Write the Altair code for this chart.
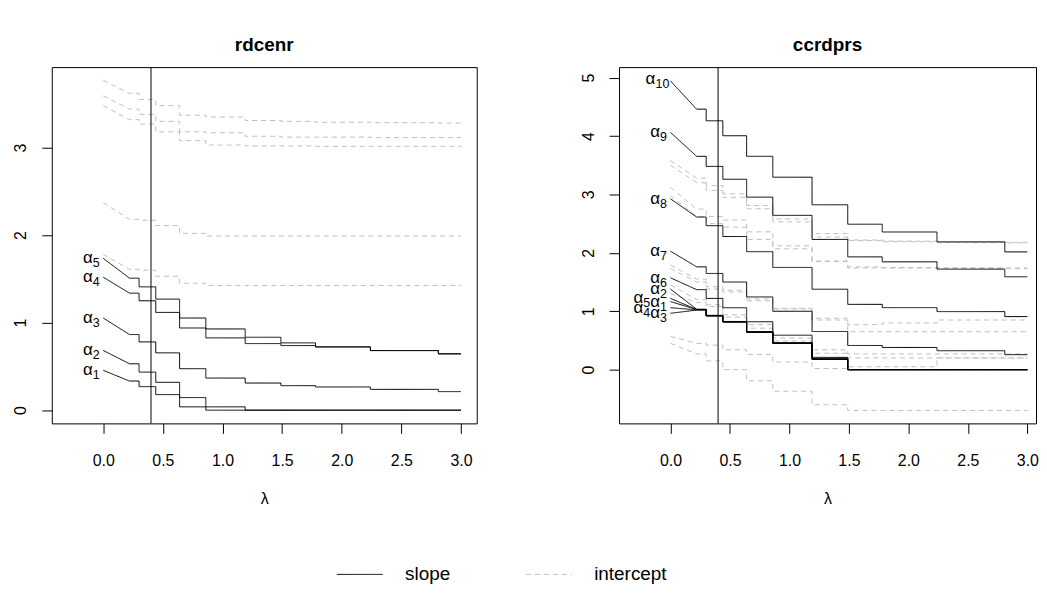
import altair as alt
import pandas as pd

# ---------------- data ----------------
LAMBDA_BREAKS = [0.0, 0.22, 0.30, 0.44, 0.64, 0.86, 1.19, 1.49, 1.78, 2.24, 2.81, 3.0]
LAMBDA_SELECTED = [0.40]
X_TICKS = [0.0, 0.5, 1.0, 1.5, 2.0, 2.5, 3.0]

# each path: value at lambda=0, then one value per step interval
rd_slope_1 = [0.455, 0.333, 0.269, 0.178, 0.038, 0.0, 0.0, 0.0, 0.0, 0.0, 0.0]
rd_slope_2 = [0.682, 0.530, 0.435, 0.318, 0.144, 0.038, 0.0, 0.0, 0.0, 0.0, 0.0]
rd_slope_3 = [1.053, 0.864, 0.780, 0.655, 0.474, 0.367, 0.310, 0.280, 0.265, 0.238, 0.212]
rd_slope_4 = [1.519, 1.337, 1.250, 1.117, 0.939, 0.826, 0.761, 0.738, 0.723, 0.681, 0.644]
rd_slope_5 = [1.735, 1.508, 1.409, 1.269, 1.053, 0.928, 0.833, 0.769, 0.723, 0.681, 0.644]

rd_icpt_1 = [3.77, 3.62, 3.55, 3.48, 3.37, 3.35, 3.31, 3.30, 3.29, 3.285, 3.28]
rd_icpt_2 = [3.59, 3.44, 3.38, 3.30, 3.18, 3.17, 3.13, 3.12, 3.12, 3.115, 3.115]
rd_icpt_3 = [3.48, 3.32, 3.27, 3.18, 3.08, 3.03, 3.02, 3.02, 3.015, 3.015, 3.015]
rd_icpt_4 = [2.37, 2.18, 2.17, 2.11, 2.02, 1.99, 1.99, 1.99, 1.99, 1.99, 1.99]
rd_icpt_5 = [1.78, 1.61, 1.60, 1.53, 1.45, 1.425, 1.425, 1.425, 1.425, 1.425, 1.425]

rd_label_sub = ["1", "2", "3", "4", "5"]
rd_label_x = [-0.03, -0.03, -0.03, -0.03, -0.03]
rd_label_y = [0.455, 0.682, 1.053, 1.519, 1.735]

cc_slope_1 = [1.165, 1.030, 0.925, 0.820, 0.645, 0.454, 0.180, 0.0, 0.0, 0.0, 0.0]
cc_slope_2 = [1.380, 1.035, 0.930, 0.825, 0.650, 0.460, 0.185, 0.0, 0.0, 0.0, 0.0]
cc_slope_3 = [0.965, 1.020, 0.920, 0.815, 0.640, 0.450, 0.175, 0.0, 0.0, 0.0, 0.0]
cc_slope_4 = [1.060, 1.025, 0.925, 0.820, 0.645, 0.455, 0.180, 0.0, 0.0, 0.0, 0.0]
cc_slope_5 = [1.220, 1.030, 0.920, 0.820, 0.640, 0.450, 0.180, 0.0, 0.0, 0.0, 0.0]
cc_slope_6 = [1.573, 1.370, 1.220, 1.060, 0.820, 0.590, 0.210, 0.0, 0.0, 0.0, 0.0]
cc_slope_7 = [2.028, 1.760, 1.647, 1.500, 1.245, 1.000, 0.653, 0.414, 0.380, 0.324, 0.256]
cc_slope_8 = [2.925, 2.613, 2.465, 2.280, 2.020, 1.750, 1.377, 1.118, 1.062, 0.994, 0.908]
cc_slope_9 = [4.062, 3.653, 3.480, 3.260, 2.954, 2.642, 2.230, 1.931, 1.846, 1.721, 1.590]
cc_slope_10 = [4.943, 4.460, 4.261, 4.005, 3.653, 3.295, 2.823, 2.490, 2.357, 2.187, 2.016]

cc_icpt_1 = [3.58, 3.28, 3.15, 3.01, 2.81, 2.58, 2.33, 2.22, 2.20, 2.19, 2.18]
cc_icpt_2 = [3.50, 3.20, 3.07, 2.95, 2.755, 2.53, 2.27, 2.21, 2.19, 2.18, 2.17]
cc_icpt_3 = [3.12, 2.75, 2.62, 2.56, 2.36, 2.07, 1.85, 1.76, 1.75, 1.74, 1.73]
cc_icpt_4 = [2.98, 2.62, 2.50, 2.44, 2.23, 2.12, 1.86, 1.74, 1.74, 1.74, 1.74]
cc_icpt_5 = [1.79, 1.55, 1.42, 1.36, 1.21, 1.05, 0.88, 0.77, 0.80, 0.85, 0.85]
cc_icpt_6 = [1.73, 1.50, 1.38, 1.33, 1.18, 1.04, 0.85, 0.65, 0.65, 0.65, 0.65]
cc_icpt_7 = [1.45, 1.20, 1.11, 0.94, 0.77, 0.54, 0.34, 0.27, 0.27, 0.27, 0.27]
cc_icpt_8 = [1.30, 1.15, 1.08, 0.90, 0.71, 0.49, 0.28, 0.20, 0.20, 0.20, 0.20]
cc_icpt_9 = [0.57, 0.45, 0.42, 0.34, 0.26, 0.13, 0.02, 0.05, 0.05, 0.20, 0.20]
cc_icpt_10 = [0.45, 0.27, 0.15, 0.00, -0.19, -0.37, -0.60, -0.70, -0.70, -0.70, -0.70]

cc_label_sub = ["10", "9", "8", "7", "6", "2", "5", "1", "4", "3"]
cc_label_x = [-0.01, -0.03, -0.03, -0.03, -0.03, -0.03, -0.17, -0.03, -0.17, -0.03]
cc_label_y = [4.97, 4.062, 2.925, 2.028, 1.573, 1.38, 1.22, 1.165, 1.06, 0.965]

TYPES = ["slope", "intercept"]
FONT = "Liberation Sans"
H = 358


def path_rows(name, kind, values):
    rows = [dict(series=name, type=kind, order=0, x=LAMBDA_BREAKS[0], y=values[0])]
    o = 1
    for i in range(1, len(values)):
        rows.append(dict(series=name, type=kind, order=o, x=LAMBDA_BREAKS[i], y=values[i]))
        o += 1
        rows.append(dict(series=name, type=kind, order=o, x=LAMBDA_BREAKS[i + 1], y=values[i]))
        o += 1
    return rows


def make_panel(title, slopes, icpts, subs, lab_x, lab_y, xdom, width, ydom, yticks):
    srows, irows = [], []
    for k, v in enumerate(slopes):
        srows += path_rows(f"s{k}", "slope", v)
    for k, v in enumerate(icpts):
        irows += path_rows(f"i{k}", "intercept", v)
    sdf = pd.DataFrame(srows)
    idf = pd.DataFrame(irows)
    ldf = pd.DataFrame({"x": lab_x, "y": lab_y, "sub": subs, "g": ["α"] * len(subs),
                        "nd": [len(s) for s in subs]})
    rdf = pd.DataFrame({"lam": LAMBDA_SELECTED})
    tdf = pd.DataFrame({"t": [title]})

    xsc = alt.Scale(domain=xdom, nice=False, zero=False)
    ysc = alt.Scale(domain=ydom, nice=False, zero=False)
    xax = alt.Axis(values=X_TICKS, format=".1f", title="λ", domain=False, grid=False,
                   tickSize=10, tickColor="black", labelColor="black", labelFontSize=16,
                   labelPadding=27, labelBaseline="middle", labelFlush=False,
                   labelOverlap=False, titleFontSize=16, titleFontWeight="normal",
                   titleColor="black", titleY=76, titleBaseline="middle")
    yax = alt.Axis(values=yticks, format="d", title=None, domain=False, grid=False,
                   tickSize=10, tickColor="black", labelColor="black", labelFontSize=16,
                   labelAngle=-90, labelAlign="center", labelBaseline="middle",
                   labelPadding=21, labelFlush=False, labelOverlap=False)
    leg = alt.Legend(title=None)
    cscale = alt.Scale(domain=TYPES, range=["black", "#bebebe"])
    dscale = alt.Scale(domain=TYPES, range=[[1, 0], [5, 4]])

    def lines(df):
        return alt.Chart(df).mark_line(strokeWidth=1).encode(
            x=alt.X("x:Q", scale=xsc, axis=xax),
            y=alt.Y("y:Q", scale=ysc, axis=yax),
            detail="series:N",
            order="order:Q",
            color=alt.Color("type:N", scale=cscale, legend=leg),
            strokeDash=alt.StrokeDash("type:N", scale=dscale, legend=leg),
        )

    rule = alt.Chart(rdf).mark_rule(color="black", strokeWidth=1).encode(x=alt.X("lam:Q", scale=xsc))
    lab = alt.Chart(ldf).encode(x=alt.X("x:Q", scale=xsc), y=alt.Y("y:Q", scale=ysc))
    sub_t = lab.mark_text(align="right", baseline="middle", fontSize=12.5, font=FONT,
                          color="black", dy=5).encode(text="sub:N")
    g1 = lab.transform_filter("datum.nd == 1").mark_text(
        align="right", baseline="middle", fontSize=17, font=FONT, color="black", dx=-7
    ).encode(text="g:N")
    g2 = lab.transform_filter("datum.nd == 2").mark_text(
        align="right", baseline="middle", fontSize=17, font=FONT, color="black", dx=-14
    ).encode(text="g:N")
    ttl = alt.Chart(tdf).mark_text(align="center", baseline="alphabetic", fontSize=19,
                                   fontWeight="bold", font=FONT, color="black").encode(
        x=alt.value(width / 2), y=alt.value(-16), text="t:N")

    return alt.layer(lines(idf), lines(sdf), rule, sub_t, g1, g2, ttl).properties(
        width=width, height=H)


left = make_panel("rdcenr",
                  [rd_slope_1, rd_slope_2, rd_slope_3, rd_slope_4, rd_slope_5],
                  [rd_icpt_1, rd_icpt_2, rd_icpt_3, rd_icpt_4, rd_icpt_5],
                  rd_label_sub, rd_label_x, rd_label_y,
                  [-0.432, 3.132], 427, [-0.151, 3.92], [0, 1, 2, 3])
right = make_panel("ccrdprs",
                   [cc_slope_1, cc_slope_2, cc_slope_3, cc_slope_4, cc_slope_5,
                    cc_slope_6, cc_slope_7, cc_slope_8, cc_slope_9, cc_slope_10],
                   [cc_icpt_1, cc_icpt_2, cc_icpt_3, cc_icpt_4, cc_icpt_5,
                    cc_icpt_6, cc_icpt_7, cc_icpt_8, cc_icpt_9, cc_icpt_10],
                   cc_label_sub, cc_label_x, cc_label_y,
                   [-0.4325, 3.0725], 419, [-0.92, 5.18], [0, 1, 2, 3, 4, 5])

chart = alt.hconcat(left, right, spacing=102).resolve_scale(
    x="independent", y="independent", color="shared", strokeDash="shared"
).properties(
    padding={"left": 4, "top": 26, "right": 0, "bottom": 0}
).configure(font=FONT).configure_view(
    stroke="black", strokeWidth=1
).configure_legend(
    orient="none", legendX=286, legendY=486, direction="horizontal",
    symbolType="stroke", symbolSize=2116, symbolStrokeWidth=1,
    labelFontSize=19, labelColor="black", labelOffset=22, columnPadding=73,
    labelFont=FONT
)

chart.save("out.html", embed_options={"renderer": "svg", "actions": False})
